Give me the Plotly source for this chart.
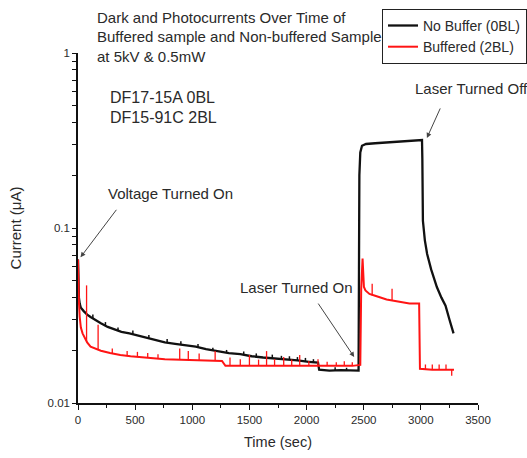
import numpy as np
import plotly.graph_objects as go

# ---- No Buffer (0BL) sample: main current trace ----
time_0bl = [0, 3, 8, 15, 25, 50, 80, 110, 150, 200, 260, 320, 380, 450, 520,
            600, 680, 760, 850, 940, 1030, 1120, 1220, 1320, 1420, 1520, 1620,
            1720, 1820, 1920, 2020, 2100, 2110, 2200, 2300, 2400, 2455, 2462,
            2470, 2485, 2520, 2600, 2700, 2800, 2900, 3000, 3010, 3013, 3018,
            3035, 3055, 3090, 3140, 3180, 3216, 3250, 3286]
current_0bl = [0.066, 0.045, 0.040, 0.037, 0.035, 0.0335, 0.032, 0.031, 0.0298,
               0.0286, 0.0272, 0.0262, 0.0255, 0.025, 0.0243, 0.0235, 0.0228,
               0.0222, 0.0218, 0.0214, 0.021, 0.0203, 0.0197, 0.0193, 0.019,
               0.0185, 0.0182, 0.018, 0.0177, 0.0175, 0.0172, 0.017, 0.0155,
               0.0153, 0.0154, 0.0153, 0.0153, 0.2, 0.27, 0.295, 0.302, 0.305,
               0.308, 0.311, 0.314, 0.317, 0.318, 0.25, 0.11, 0.085, 0.071,
               0.058, 0.046, 0.040, 0.036, 0.030, 0.025]

# small noise bumps on the 0BL dark current (time, base, peak)
bump_t_0bl = [130, 240, 350, 480, 620, 780, 900, 1050, 1180, 1300, 1450, 1560,
              1700, 1780, 1850, 1920, 1990, 2060, 2250, 2350]
bump_base_0bl = [0.0304, 0.0275, 0.0258, 0.0248, 0.0234, 0.0222, 0.0215,
                 0.0208, 0.0199, 0.0193, 0.0189, 0.0184, 0.018, 0.0178,
                 0.0177, 0.0175, 0.0173, 0.0171, 0.0154, 0.0154]
bump_peak_0bl = [0.032, 0.029, 0.027, 0.026, 0.0245, 0.0232, 0.0225,
                 0.0217, 0.0207, 0.0201, 0.0197, 0.0192, 0.0189, 0.0186,
                 0.0185, 0.0183, 0.0181, 0.0178, 0.016, 0.0159]

# ---- Buffered (2BL) sample: main current trace ----
time_2bl = [0, 3, 8, 15, 25, 40, 60, 80, 110, 150, 200, 280, 370, 460, 560,
            660, 760, 860, 960, 1060, 1160, 1260, 1290, 1400, 1600, 1800, 2000,
            2200, 2400, 2470, 2478, 2490, 2496, 2502, 2515, 2550, 2600, 2700,
            2800, 2900, 2985, 2992, 3100, 3200, 3290]
current_2bl = [0.066, 0.05, 0.038, 0.031, 0.027, 0.025, 0.0235, 0.0222, 0.021,
               0.0205, 0.0199, 0.0193, 0.0188, 0.0185, 0.0182, 0.018, 0.0178,
               0.0177, 0.0176, 0.0176, 0.0175, 0.0174, 0.0163, 0.0163, 0.0163,
               0.0163, 0.0163, 0.0163, 0.0163, 0.0165, 0.045, 0.067, 0.05,
               0.046, 0.044, 0.042, 0.041, 0.039, 0.038, 0.037, 0.037, 0.0157,
               0.0155, 0.0155, 0.0155]

# noise spikes on the 2BL trace (time, base, peak)
spike_t_2bl = [75, 176, 300, 430, 520, 610, 700, 890, 965, 1060, 1200, 1330,
               1420, 1500, 1580, 1650, 1720, 1800, 1870, 1940, 2020, 2100,
               2180, 2260, 2330, 2400, 2574, 2748, 3040, 3100, 3160, 3220,
               3270]
spike_base_2bl = [0.0225, 0.0201, 0.0192, 0.0186, 0.0184, 0.0181, 0.0179,
                  0.0177, 0.0176, 0.0176, 0.0175, 0.0163, 0.0163, 0.0163,
                  0.0163, 0.0163, 0.0163, 0.0163, 0.0163, 0.0163, 0.0163,
                  0.0163, 0.0163, 0.0163, 0.0163, 0.0163, 0.0412, 0.0385,
                  0.0155, 0.0155, 0.0155, 0.0155, 0.0155]
spike_peak_2bl = [0.047, 0.028, 0.0205, 0.0198, 0.0196, 0.0193, 0.019, 0.0205,
                  0.0198, 0.0192, 0.0198, 0.0182, 0.0178, 0.0188, 0.0177,
                  0.0198, 0.0178, 0.0183, 0.0177, 0.0188, 0.0174, 0.0178,
                  0.0172, 0.0171, 0.0173, 0.0171, 0.048, 0.045, 0.0166,
                  0.0166, 0.0166, 0.0166, 0.0143]

x_ticks = [0, 500, 1000, 1500, 2000, 2500, 3000, 3500]
# decade ticks carry labels, the in-between ticks stay blank
y_ticks = [0.01, 0.02, 0.03, 0.04, 0.05, 0.06, 0.07, 0.08, 0.09,
           0.1, 0.2, 0.3, 0.4, 0.5, 0.6, 0.7, 0.8, 0.9, 1]
y_tick_text = ["0.01", "", "", "", "", "", "", "", "",
               "0.1", "", "", "", "", "", "", "", "", "1"]

BLACK = "#111111"
RED = "#ff1414"
TEXT = "#2a2a2a"
FONT = "Arial, Liberation Sans, sans-serif"


def segments(ts, bases, peaks):
    xs, ys = [], []
    for t, b, p in zip(ts, bases, peaks):
        xs += [t, t, None]
        ys += [b, p, None]
    return xs, ys


fig = go.Figure()
fig.add_trace(go.Scatter(x=time_0bl, y=current_0bl, mode="lines",
                         name="No Buffer (0BL)",
                         line=dict(color=BLACK, width=2.3)))
bx, by = segments(bump_t_0bl, bump_base_0bl, bump_peak_0bl)
fig.add_trace(go.Scatter(x=bx, y=by, mode="lines", showlegend=False,
                         line=dict(color=BLACK, width=1.5)))
fig.add_trace(go.Scatter(x=time_2bl, y=current_2bl, mode="lines",
                         name="Buffered (2BL)",
                         line=dict(color=RED, width=2)))
rx, ry = segments(spike_t_2bl, spike_base_2bl, spike_peak_2bl)
fig.add_trace(go.Scatter(x=rx, y=ry, mode="lines", showlegend=False,
                         line=dict(color=RED, width=1.3)))

# header text
header = ["Dark and Photocurrents Over Time of",
          "Buffered sample and Non-buffered Sample",
          "at 5kV & 0.5mW"]
header_y = [1.10, 1.046, 0.989]
for txt, yy in zip(header, header_y):
    fig.add_annotation(text=txt, xref="paper", yref="paper", x=0.0425, y=yy,
                       xanchor="left", yanchor="middle", showarrow=False,
                       font=dict(size=15, color=TEXT, family=FONT))

for txt, yy in zip(["DF17-15A 0BL", "DF15-91C 2BL"], [0.874, 0.817]):
    fig.add_annotation(text=txt, xref="paper", yref="paper", x=0.075, y=yy,
                       xanchor="left", yanchor="middle", showarrow=False,
                       font=dict(size=16, color=TEXT, family=FONT))

# event labels with pointer arrows
events = [
    ("Voltage Turned On", 22, 0.068, 37, -49, 806, 0.158),
    ("Laser Turned On", 2417, 0.0183, -37, -55, 1912, 0.046),
    ("Laser Turned Off", 3053, 0.327, 14, -31, 3440, 0.63),
]
for label, hx, hy, axp, ayp, tx, ty in events:
    fig.add_annotation(x=hx, y=np.log10(hy), xref="x", yref="y", text="",
                       showarrow=True, ax=axp, ay=ayp, arrowhead=2,
                       arrowsize=1, arrowwidth=1, arrowcolor="#444")
    fig.add_annotation(x=tx, y=np.log10(ty), xref="x", yref="y", text=label,
                       showarrow=False, xanchor="center", yanchor="middle",
                       font=dict(size=15, color=TEXT, family=FONT))

fig.update_layout(
    width=527, height=458,
    margin=dict(l=78, r=49, t=53, b=55, autoexpand=False),
    paper_bgcolor="white", plot_bgcolor="white",
    font=dict(family=FONT, size=11.5, color=TEXT),
    showlegend=True,
    legend=dict(x=0.76, y=1.126, xanchor="left", yanchor="top",
                bordercolor="#222", borderwidth=1, bgcolor="white",
                font=dict(size=14, color=TEXT), tracegroupgap=0,
                itemwidth=30),
)
fig.update_xaxes(range=[0, 3500], tickvals=x_ticks, showline=True,
                 linecolor=BLACK, linewidth=1.5, ticks="outside", ticklen=5,
                 tickwidth=1.2, tickcolor=BLACK, showgrid=False,
                 zeroline=False,
                 minor=dict(dtick=250, tick0=0, ticks="outside", ticklen=3,
                            tickwidth=1, tickcolor=BLACK, showgrid=False),
                 title=dict(text="Time (sec)", font=dict(size=14.5),
                            standoff=12))
fig.update_yaxes(type="log", range=[-2, 0], tickvals=y_ticks,
                 ticktext=y_tick_text, showline=True, linecolor=BLACK,
                 linewidth=1.5, ticks="outside", ticklen=4, tickwidth=1.1,
                 tickcolor=BLACK, showgrid=False, zeroline=False,
                 title=dict(text="Current (μA)", font=dict(size=15),
                            standoff=22))

fig.write_html("out.html")
